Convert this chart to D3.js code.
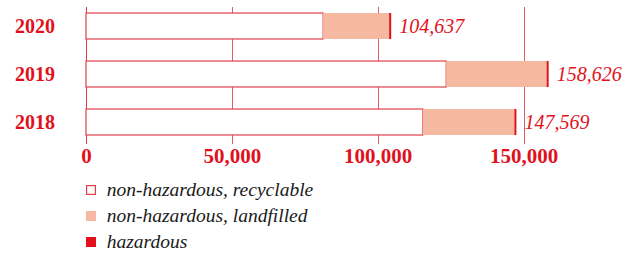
<!DOCTYPE html>
<html><head><meta charset="utf-8">
<script src="https://cdn.jsdelivr.net/npm/d3@7"></script>
<style>body{margin:0;background:#fff}svg{display:block}</style>
</head><body>
<svg id="c" width="635" height="255"></svg>
<script>
const years = ["2020", "2019", "2018"];
const recyclable = [81300, 123500, 115500];
const landfilled = [22637, 34426, 31369];
const hazardous = [700, 700, 700];
const totals = [104637, 158626, 147569];
const tickValues = [0, 50000, 100000, 150000];
const seriesNames = ["non-hazardous, recyclable", "non-hazardous, landfilled", "hazardous"];

const RED = "#e2101b", LINE = "#e0404a", SALMON = "#f4b9a0";
const font = "'Liberation Serif', 'Times New Roman', serif";
const svg = d3.select("#c");
const x = d3.scaleLinear().domain([0, 150000]).range([86, 523.5]);
const y = d3.scaleBand().domain(years).range([2, 146]).paddingInner(22 / 48).paddingOuter(11 / 48);

const rows = years.map((yr, i) => ({yr, r: recyclable[i], l: landfilled[i], h: hazardous[i], t: totals[i]}));
const stack = d3.stack().keys(["r", "l", "h"])(rows);

// grid
const gx = d => Math.round(x(d)) + 0.5;
svg.append("g").selectAll("line").data(tickValues).join("line")
  .attr("x1", gx).attr("x2", gx)
  .attr("y1", 7).attr("y2", 144)
  .attr("stroke", LINE).attr("stroke-width", 1).attr("opacity", d => d === 0 ? 1 : 0.85);

const fills = {r: "#fff", l: SALMON, h: RED};
stack.forEach(s => {
  svg.append("g").selectAll("rect").data(s).join("rect")
    .attr("x", d => x(d[0])).attr("width", d => x(d[1]) - x(d[0]))
    .attr("y", d => y(d.data.yr)).attr("height", y.bandwidth())
    .attr("fill", fills[s.key])
    .attr("stroke", s.key === "r" ? LINE : "none")
    .attr("stroke-width", 1.2);
});

// year labels
svg.append("g").selectAll("text").data(years).join("text")
  .attr("x", 55).attr("y", d => y(d) + y.bandwidth() / 2)
  .attr("dy", "0.35em").attr("text-anchor", "end")
  .attr("font-family", font).attr("font-weight", "bold").attr("font-size", 20)
  .attr("fill", RED).text(d => d);

// totals
svg.append("g").selectAll("text").data(rows).join("text")
  .attr("x", d => x(d.t) + 8).attr("y", d => y(d.yr) + y.bandwidth() / 2)
  .attr("dy", "0.35em")
  .attr("font-family", font).attr("font-style", "italic").attr("font-size", 20)
  .attr("fill", RED).text(d => d3.format(",")(d.t));

// axis
const ax = svg.append("g").attr("transform", "translate(0,143)")
  .call(d3.axisBottom(x).tickValues(tickValues).tickSize(0).tickFormat(d3.format(",")));
ax.select(".domain").remove();
ax.selectAll("text").attr("y", 19.7).attr("dy", null)
  .attr("font-family", font).attr("font-weight", "bold")
  .attr("font-size", 21).attr("fill", RED);

// legend
const lg = svg.append("g").selectAll("g").data(seriesNames).join("g")
  .attr("transform", (d, i) => `translate(86,${190 + i * 26})`);
lg.append("rect")
  .attr("x", (d, i) => i === 0 ? 0.6 : 0).attr("y", (d, i) => i === 0 ? -4.4 : -5)
  .attr("width", (d, i) => i === 0 ? 8.8 : 10).attr("height", (d, i) => i === 0 ? 8.8 : 10)
  .attr("fill", (d, i) => ["#fff", SALMON, RED][i])
  .attr("stroke", (d, i) => i === 0 ? LINE : "none").attr("stroke-width", 1.2);
lg.append("text").attr("x", 20.7).attr("y", 0).attr("dy", "0.3em")
  .attr("font-family", font).attr("font-style", "italic").attr("font-size", 19.5)
  .attr("fill", "#1a1a1a").text(d => d);
</script>
</body></html>
